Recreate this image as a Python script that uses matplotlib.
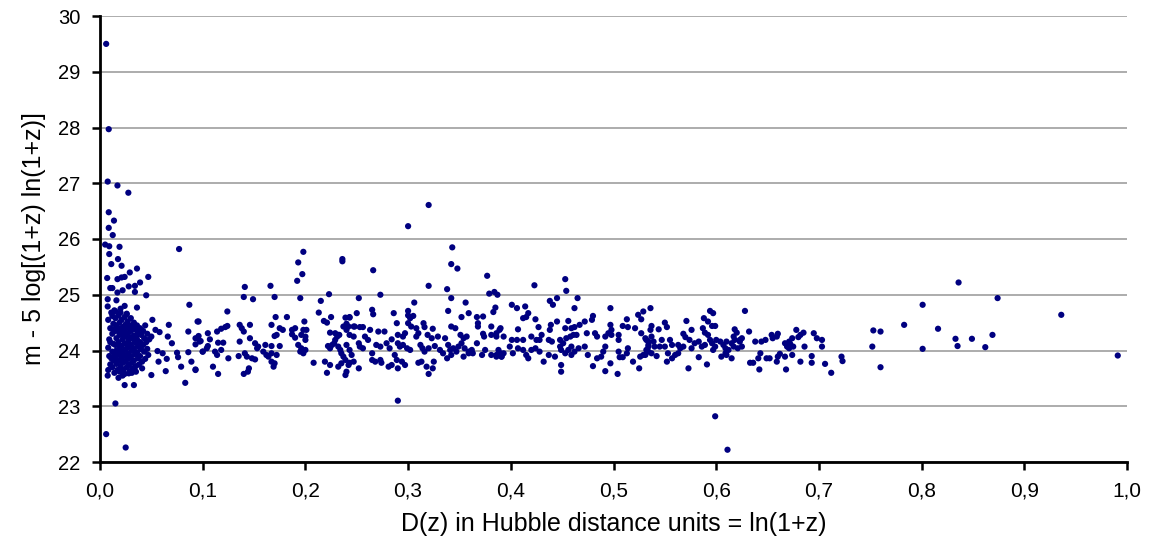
import matplotlib

matplotlib.use("Agg")
import matplotlib.pyplot as plt
import numpy as np

# values, grouped by D(z) range
dz_edge = [0.006, 0.0085, 0.0075, 0.017, 0.0276, 0.0085, 0.0136, 0.0085, 0.0124,
           0.005, 0.009, 0.019, 0.077, 0.009, 0.0175, 0.011, 0.021, 0.036, 0.029,
           0.007, 0.017, 0.021, 0.024, 0.047, 0.039, 0.034, 0.028, 0.010, 0.012,
           0.022, 0.034, 0.017, 0.045, 0.0075, 0.016, 0.024, 0.087, 0.0075, 0.036,
           0.015, 0.020, 0.026, 0.0075, 0.018, 0.028, 0.024, 0.033, 0.015, 0.006, 0.025]
mu_edge = [29.50, 27.97, 27.03, 26.96, 26.83, 26.48, 26.33, 26.20, 26.07,
           25.90, 25.87, 25.86, 25.82, 25.73, 25.64, 25.55, 25.52, 25.47, 25.40,
           25.30, 25.28, 25.31, 25.32, 25.32, 25.22, 25.16, 25.15, 25.12, 25.12,
           25.08, 25.05, 25.04, 24.99, 24.92, 24.90, 24.80, 24.82, 24.79, 24.77,
           24.70, 24.75, 24.65, 23.55, 23.51, 23.59, 23.38, 23.38, 23.05, 22.50, 22.26]

dz_core = [0.008, 0.010, 0.009, 0.008, 0.009, 0.010, 0.008,
           0.012, 0.013, 0.012, 0.013, 0.012, 0.013, 0.012, 0.014,
           0.015, 0.016, 0.015, 0.016, 0.015, 0.016, 0.015, 0.016, 0.017,
           0.018, 0.019, 0.018, 0.019, 0.018, 0.019, 0.018, 0.019, 0.020, 0.019,
           0.021, 0.022, 0.021, 0.022, 0.021, 0.022, 0.021, 0.022, 0.023, 0.022,
           0.024, 0.025, 0.024, 0.025, 0.024, 0.025, 0.024, 0.025, 0.026,
           0.027, 0.028, 0.027, 0.028, 0.027, 0.028, 0.027, 0.028, 0.029,
           0.030, 0.031, 0.030, 0.031, 0.030, 0.031, 0.030, 0.031, 0.032,
           0.033, 0.034, 0.033, 0.034, 0.033, 0.034, 0.033, 0.035,
           0.036, 0.037, 0.036, 0.037, 0.036, 0.037, 0.038,
           0.039, 0.040, 0.039, 0.040, 0.039, 0.041,
           0.042, 0.043, 0.042, 0.043, 0.044,
           0.046, 0.045, 0.046, 0.047,
           0.011, 0.014, 0.020, 0.026, 0.017, 0.023, 0.029, 0.026, 0.020, 0.014,
           0.032, 0.035, 0.038, 0.023, 0.029, 0.017, 0.011, 0.024, 0.031, 0.035,
           0.041, 0.044, 0.048, 0.010, 0.013, 0.027, 0.033]
mu_core = [24.55, 24.40, 24.20, 24.05, 23.90, 23.75, 23.65,
           24.62, 24.48, 24.30, 24.12, 23.98, 23.82, 23.70, 23.60,
           24.58, 24.45, 24.35, 24.22, 24.10, 24.00, 23.88, 23.76, 23.65,
           24.63, 24.50, 24.40, 24.28, 24.15, 24.05, 23.93, 23.83, 23.72, 23.62,
           24.55, 24.42, 24.33, 24.20, 24.08, 23.97, 23.86, 23.78, 23.66, 23.55,
           24.60, 24.47, 24.37, 24.25, 24.13, 24.02, 23.92, 23.80, 23.70,
           24.52, 24.40, 24.30, 24.18, 24.06, 23.95, 23.85, 23.74, 23.63,
           24.58, 24.45, 24.35, 24.22, 24.10, 24.00, 23.88, 23.78, 23.68,
           24.50, 24.38, 24.27, 24.15, 24.03, 23.93, 23.82, 23.72,
           24.45, 24.32, 24.20, 24.08, 23.97, 23.86, 23.75,
           24.40, 24.28, 24.15, 24.02, 23.90, 23.80,
           24.35, 24.22, 24.10, 23.98, 23.85,
           24.30, 24.15, 24.03, 23.92,
           24.68, 24.72, 24.68, 24.66, 24.36, 24.28, 24.24, 24.12, 24.00, 23.93,
           24.05, 24.25, 24.12, 23.90, 23.90, 23.80, 23.86, 23.58, 23.60, 23.62,
           23.68, 24.45, 24.20, 24.15, 24.38, 24.45, 24.42]

dz_low = [0.051, 0.096, 0.067, 0.054, 0.058, 0.086, 0.050, 0.066, 0.093, 0.098,
          0.070, 0.093, 0.100, 0.056, 0.061, 0.075, 0.076, 0.086, 0.089, 0.065,
          0.057, 0.064, 0.079, 0.093, 0.050, 0.083,
          0.198, 0.193, 0.197, 0.192, 0.236, 0.236, 0.141, 0.166, 0.140, 0.149,
          0.170, 0.195, 0.223, 0.215, 0.095, 0.124, 0.171, 0.182, 0.199, 0.213,
          0.225, 0.218, 0.221, 0.239, 0.243, 0.124, 0.122, 0.118, 0.136, 0.138,
          0.140, 0.146, 0.167, 0.175, 0.178, 0.187, 0.190, 0.198, 0.201, 0.114,
          0.105, 0.096, 0.224, 0.229, 0.232, 0.237, 0.240, 0.247, 0.170, 0.172,
          0.187, 0.190, 0.196, 0.200, 0.200, 0.097, 0.107, 0.115, 0.120, 0.136,
          0.146, 0.151, 0.154, 0.161, 0.167, 0.175, 0.105, 0.104, 0.193, 0.196,
          0.200, 0.195, 0.198, 0.226, 0.228, 0.229, 0.231, 0.233, 0.232, 0.234,
          0.235, 0.237, 0.239, 0.224, 0.222, 0.100, 0.112, 0.118, 0.114, 0.141,
          0.143, 0.153, 0.159, 0.162, 0.167, 0.172, 0.125, 0.135, 0.148, 0.151,
          0.164, 0.167, 0.170, 0.208, 0.219, 0.224, 0.232, 0.235, 0.240, 0.243,
          0.093, 0.110, 0.115, 0.140, 0.144, 0.145, 0.169, 0.221, 0.239]
mu_low = [24.55, 24.52, 24.46, 24.37, 24.33, 24.34, 24.25, 24.25, 24.22, 24.17,
          24.13, 24.11, 23.98, 23.99, 23.95, 23.96, 23.88, 23.97, 23.80, 23.85,
          23.80, 23.63, 23.71, 23.66, 23.56, 23.42,
          25.77, 25.58, 25.37, 25.25, 25.64, 25.60, 25.14, 25.16, 24.96, 24.92,
          24.96, 24.94, 25.01, 24.89, 24.52, 24.70, 24.60, 24.60, 24.52, 24.68,
          24.60, 24.53, 24.50, 24.59, 24.59, 24.44, 24.42, 24.39, 24.46, 24.40,
          24.34, 24.46, 24.46, 24.40, 24.37, 24.37, 24.40, 24.37, 24.37, 24.34,
          24.31, 24.26, 24.32, 24.31, 24.28, 24.43, 24.37, 24.43, 24.26, 24.28,
          24.29, 24.23, 24.28, 24.25, 24.19, 24.16, 24.20, 24.14, 24.14, 24.16,
          24.22, 24.13, 24.07, 24.10, 24.08, 24.08, 24.08, 24.04, 24.10, 24.04,
          24.01, 23.98, 23.95, 24.10, 24.13, 24.19, 24.25, 24.28, 24.07, 24.01,
          23.95, 23.89, 23.83, 24.04, 24.08, 23.98, 23.98, 24.01, 23.92, 23.95,
          23.89, 24.04, 23.98, 23.92, 23.95, 23.92, 23.86, 23.90, 23.86, 23.84,
          23.89, 23.80, 23.77, 23.78, 23.80, 23.74, 23.71, 23.77, 23.62, 23.78,
          23.65, 23.71, 23.58, 23.58, 23.62, 23.68, 23.71, 23.60, 23.56]

dz_mid = [0.320, 0.300, 0.343, 0.342, 0.348, 0.266, 0.377, 0.320, 0.338, 0.379,
          0.384, 0.387, 0.273, 0.252, 0.342, 0.306, 0.356, 0.339, 0.265, 0.266,
          0.250, 0.243, 0.286, 0.300, 0.300, 0.302, 0.305, 0.359, 0.352, 0.367,
          0.373, 0.385, 0.383, 0.240, 0.242, 0.289, 0.300, 0.303, 0.308, 0.315,
          0.316, 0.324, 0.342, 0.346, 0.368, 0.368, 0.381, 0.390, 0.248, 0.253,
          0.256, 0.263, 0.271, 0.277, 0.243, 0.247, 0.258, 0.261, 0.284, 0.290,
          0.295, 0.297, 0.308, 0.310, 0.319, 0.323, 0.329, 0.336, 0.351, 0.354,
          0.357, 0.373, 0.374, 0.381, 0.386, 0.252, 0.253, 0.256, 0.240, 0.243,
          0.269, 0.273, 0.279, 0.282, 0.290, 0.292, 0.295, 0.299, 0.302, 0.312,
          0.314, 0.316, 0.320, 0.326, 0.331, 0.334, 0.339, 0.341, 0.344, 0.347,
          0.349, 0.352, 0.355, 0.359, 0.362, 0.363, 0.367, 0.372, 0.375, 0.381,
          0.386, 0.390, 0.391, 0.245, 0.247, 0.242, 0.265, 0.265, 0.268, 0.273,
          0.274, 0.287, 0.289, 0.294, 0.284, 0.281, 0.290, 0.297, 0.310, 0.313,
          0.318, 0.325, 0.324, 0.320, 0.252, 0.338, 0.342, 0.354, 0.359, 0.290]
mu_mid = [26.61, 26.23, 25.85, 25.55, 25.47, 25.44, 25.34, 25.16, 25.10, 25.02,
          25.05, 25.00, 25.00, 24.94, 24.94, 24.86, 24.86, 24.71, 24.73, 24.65,
          24.67, 24.60, 24.67, 24.71, 24.63, 24.58, 24.62, 24.67, 24.60, 24.60,
          24.61, 24.77, 24.69, 24.48, 24.43, 24.49, 24.49, 24.43, 24.40, 24.49,
          24.42, 24.39, 24.43, 24.40, 24.49, 24.43, 24.43, 24.40, 24.43, 24.42,
          24.42, 24.37, 24.34, 24.34, 24.28, 24.25, 24.25, 24.19, 24.20, 24.28,
          24.25, 24.31, 24.25, 24.31, 24.28, 24.22, 24.25, 24.22, 24.28, 24.22,
          24.25, 24.30, 24.25, 24.28, 24.25, 24.13, 24.07, 24.04, 24.10, 24.01,
          24.10, 24.07, 24.13, 24.04, 24.13, 24.07, 24.10, 24.04, 24.01, 24.10,
          24.04, 23.98, 24.04, 24.08, 24.01, 23.95, 24.10, 24.01, 24.04, 23.98,
          24.07, 24.13, 24.04, 23.98, 24.01, 23.95, 24.13, 23.92, 24.01, 23.92,
          23.89, 23.95, 23.89, 23.92, 23.80, 23.74, 23.95, 23.83, 23.80, 23.83,
          23.78, 23.92, 23.83, 23.80, 23.74, 23.71, 23.68, 23.74, 23.78, 23.80,
          23.71, 23.80, 23.68, 23.58, 23.68, 23.86, 23.92, 23.89, 23.95, 23.10]

dz_upper = [0.423, 0.453, 0.454, 0.438, 0.445, 0.441, 0.465, 0.462, 0.401, 0.406,
            0.414, 0.417, 0.415, 0.412, 0.424, 0.497, 0.536, 0.529, 0.524, 0.527,
            0.480, 0.479, 0.472, 0.467, 0.456, 0.445, 0.439, 0.438, 0.427, 0.430,
            0.407, 0.389, 0.386, 0.497, 0.498, 0.513, 0.509, 0.514, 0.521, 0.537,
            0.536, 0.453, 0.459, 0.462, 0.393, 0.401, 0.406, 0.412, 0.420, 0.425,
            0.428, 0.437, 0.440, 0.448, 0.451, 0.454, 0.458, 0.461, 0.464, 0.474,
            0.482, 0.484, 0.492, 0.495, 0.498, 0.505, 0.505, 0.527, 0.531, 0.534,
            0.537, 0.388, 0.391, 0.386, 0.393, 0.399, 0.402, 0.407, 0.412, 0.415,
            0.417, 0.420, 0.424, 0.428, 0.432, 0.437, 0.443, 0.448, 0.449, 0.453,
            0.456, 0.459, 0.462, 0.466, 0.459, 0.449, 0.449, 0.472, 0.475, 0.480,
            0.484, 0.488, 0.490, 0.492, 0.492, 0.497, 0.505, 0.506, 0.509, 0.513,
            0.514, 0.504, 0.519, 0.525, 0.526, 0.529, 0.532, 0.534, 0.537]
mu_upper = [25.17, 25.28, 25.07, 24.89, 24.94, 24.82, 24.94, 24.76, 24.82, 24.76,
            24.79, 24.67, 24.60, 24.58, 24.56, 24.76, 24.76, 24.70, 24.64, 24.56,
            24.62, 24.55, 24.52, 24.46, 24.53, 24.52, 24.46, 24.37, 24.42, 24.28,
            24.38, 24.37, 24.31, 24.46, 24.37, 24.56, 24.44, 24.42, 24.40, 24.44,
            24.37, 24.40, 24.40, 24.42, 24.25, 24.19, 24.19, 24.19, 24.25, 24.19,
            24.19, 24.19, 24.16, 24.19, 24.13, 24.22, 24.25, 24.28, 24.28, 24.31,
            24.31, 24.25, 24.25, 24.31, 24.28, 24.28, 24.19, 24.31, 24.22, 24.16,
            24.25, 24.01, 23.89, 23.92, 23.95, 24.07, 23.95, 24.04, 24.01, 23.92,
            23.86, 24.01, 24.04, 23.98, 23.80, 23.92, 23.89, 24.07, 24.01, 23.95,
            24.01, 23.92, 23.98, 24.04, 24.07, 23.74, 23.62, 24.07, 23.92, 23.72,
            23.86, 23.89, 23.98, 24.07, 23.63, 23.77, 23.98, 23.88, 23.88, 23.95,
            24.04, 23.58, 23.80, 23.68, 23.89, 23.92, 24.01, 24.07, 23.95]

dz_high = [0.594, 0.597, 0.628, 0.571, 0.588, 0.592, 0.550, 0.552, 0.544, 0.596,
           0.599, 0.587, 0.589, 0.576, 0.568, 0.570, 0.592, 0.594, 0.618, 0.620,
           0.617, 0.625, 0.623, 0.632, 0.654, 0.655, 0.659, 0.660, 0.678, 0.682,
           0.685, 0.680, 0.695, 0.698, 0.674, 0.671, 0.638, 0.644, 0.648, 0.532,
           0.534, 0.539, 0.540, 0.545, 0.547, 0.550, 0.555, 0.557, 0.563, 0.565,
           0.568, 0.574, 0.576, 0.579, 0.583, 0.586, 0.589, 0.596, 0.599, 0.600,
           0.604, 0.607, 0.609, 0.610, 0.612, 0.615, 0.617, 0.621, 0.625, 0.618,
           0.623, 0.667, 0.669, 0.671, 0.675, 0.672, 0.686, 0.703, 0.534, 0.531,
           0.542, 0.553, 0.557, 0.560, 0.552, 0.563, 0.583, 0.597, 0.605, 0.609,
           0.615, 0.610, 0.573, 0.591, 0.633, 0.636, 0.641, 0.643, 0.642, 0.649,
           0.652, 0.659, 0.660, 0.662, 0.668, 0.667, 0.674, 0.682, 0.693, 0.693,
           0.706, 0.599, 0.611]
mu_high = [24.71, 24.67, 24.71, 24.53, 24.58, 24.52, 24.50, 24.42, 24.38, 24.44,
           24.44, 24.40, 24.32, 24.37, 24.30, 24.24, 24.28, 24.19, 24.38, 24.32,
           24.25, 24.22, 24.16, 24.34, 24.28, 24.22, 24.25, 24.30, 24.37, 24.28,
           24.32, 24.24, 24.31, 24.22, 24.22, 24.16, 24.16, 24.16, 24.19, 24.19,
           24.10, 24.16, 24.07, 24.07, 24.19, 24.07, 24.19, 24.10, 24.10, 24.04,
           24.07, 24.19, 24.04, 24.13, 24.16, 24.07, 24.10, 24.13, 24.07, 24.19,
           24.16, 24.10, 24.04, 24.16, 24.01, 24.13, 24.07, 24.04, 24.07, 24.19,
           24.19, 24.13, 24.07, 24.04, 24.07, 24.12, 24.07, 24.07, 23.98, 23.92,
           23.90, 23.95, 23.86, 23.92, 23.80, 23.95, 23.88, 24.01, 23.89, 23.95,
           23.86, 23.92, 23.68, 23.75, 23.78, 23.78, 23.86, 23.95, 23.66, 23.86,
           23.86, 23.80, 23.89, 23.94, 23.66, 23.89, 23.92, 23.80, 23.90, 23.78,
           23.76, 22.82, 22.22]

dz_far = [0.836, 0.874, 0.801, 0.936, 0.783, 0.753, 0.760, 0.816, 0.869, 0.833,
          0.849, 0.703, 0.752, 0.801, 0.835, 0.862, 0.712, 0.722, 0.723, 0.760,
          0.991]
mu_far = [25.22, 24.94, 24.82, 24.64, 24.46, 24.36, 24.34, 24.39, 24.28, 24.21,
          24.21, 24.19, 24.07, 24.03, 24.08, 24.06, 23.60, 23.89, 23.81, 23.70,
          23.91]

X_TICKS = [0.0, 0.1, 0.2, 0.3, 0.4, 0.5, 0.6, 0.7, 0.8, 0.9, 1.0]
Y_TICKS = [22, 23, 24, 25, 26, 27, 28, 29, 30]

dz = np.concatenate([dz_edge, dz_core, dz_low, dz_mid, dz_upper, dz_high, dz_far])
mu = np.concatenate([mu_edge, mu_core, mu_low, mu_mid, mu_upper, mu_high, mu_far])

plt.rcParams["font.family"] = "Liberation Sans"

fig = plt.figure(figsize=(11.55, 5.49), dpi=100, facecolor="white")
ax = fig.add_axes([100 / 1155, 1 - 462 / 549, 1027 / 1155, 446 / 549])

ax.scatter(dz, mu, s=20, color="#000080", edgecolors="none", zorder=3)

ax.set_xlim(0, 1)
ax.set_ylim(22, 30)
ax.set_xticks(X_TICKS)
ax.set_xticklabels([f"{v:.1f}".replace(".", ",") for v in X_TICKS], fontsize=15)
ax.set_yticks(Y_TICKS)
ax.set_yticklabels([str(v) for v in Y_TICKS], fontsize=14.5)
ax.yaxis.grid(True, color="#a6a6a6", linewidth=1.3, zorder=0)
ax.set_axisbelow(True)

for side in ["top", "right"]:
    ax.spines[side].set_visible(False)
ax.spines["left"].set_linewidth(2.0)
ax.spines["bottom"].set_linewidth(2.0)
ax.tick_params(axis="both", direction="out", length=6, width=1.8, colors="black", pad=8)
ax.tick_params(axis="x", pad=8)

ax.set_xlabel("D(z) in Hubble distance units = ln(1+z)", fontsize=18, labelpad=8)
ax.set_ylabel("m - 5 log[(1+z) ln(1+z)]", fontsize=18, labelpad=9)

fig.savefig("out.png", dpi=100, facecolor="white")
